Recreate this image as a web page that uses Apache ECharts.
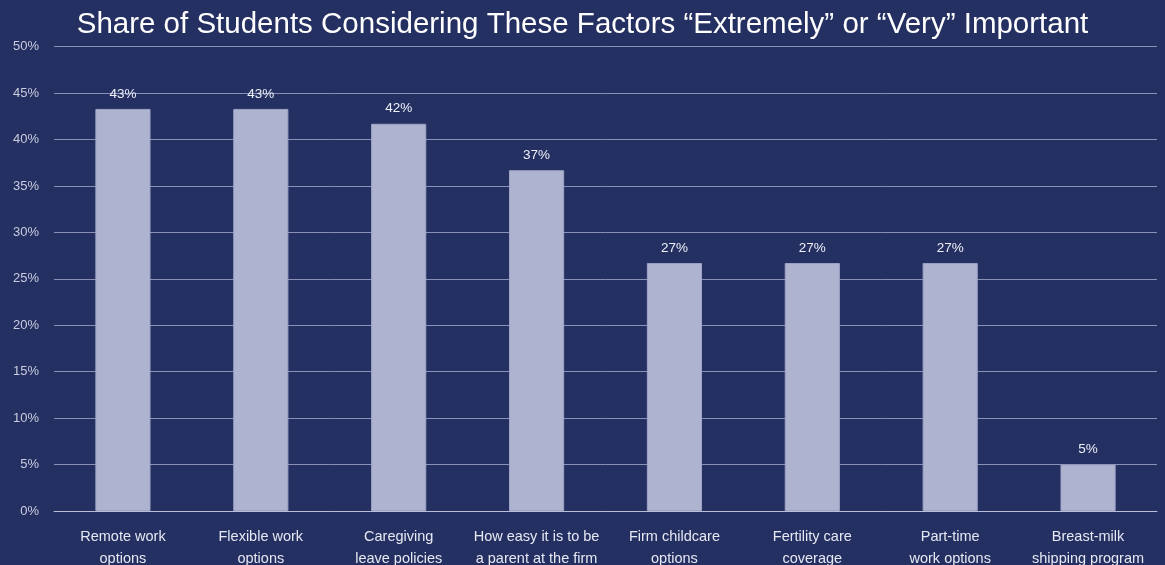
<!DOCTYPE html>
<html>
<head>
<meta charset="utf-8">
<script src="https://cdn.jsdelivr.net/npm/echarts@6/dist/echarts.min.js"></script>
<style>
  html, body { margin: 0; padding: 0; background: #253062; }
  #chart { width: 1165px; height: 565px; }
</style>
</head>
<body>
<div id="chart"></div>
<script>
// Factors rated "Extremely" or "Very" important (share of students, %)
const categories = [
  'Remote work\noptions',
  'Flexible work\noptions',
  'Caregiving\nleave policies',
  'How easy it is to be\na parent at the firm',
  'Firm childcare\noptions',
  'Fertility care\ncoverage',
  'Part-time\nwork options',
  'Breast-milk\nshipping program'
];
const shares = [43.3, 43.3, 41.7, 36.7, 26.7, 26.7, 26.7, 5.0];
const yTicks = [0, 5, 10, 15, 20, 25, 30, 35, 40, 45, 50];

const FONT = '"Liberation Sans", Arial, sans-serif';
const chart = echarts.init(document.getElementById('chart'), null, { renderer: 'canvas' });

chart.setOption({
  backgroundColor: '#253062',
  animation: false,
  title: {
    text: 'Share of Students Considering These Factors \u201cExtremely\u201d or \u201cVery\u201d Important',
    left: 'center',
    top: 5,
    textStyle: { color: '#ffffff', fontFamily: FONT, fontSize: 29.5, fontWeight: 'normal' }
  },
  grid: {
    left: 54, right: 8, top: 46.7, bottom: 54,
    containLabel: false,
    outerBoundsMode: 'none'
  },
  xAxis: {
    type: 'category',
    data: categories,
    axisLine: { show: true, lineStyle: { color: '#b9bdd8', width: 1 } },
    axisTick: { show: false },
    axisLabel: {
      color: '#e6e8f2', fontFamily: FONT, fontSize: 14.5, lineHeight: 22,
      margin: 15, interval: 0
    }
  },
  yAxis: {
    type: 'value',
    min: yTicks[0],
    max: yTicks[yTicks.length - 1],
    interval: 5,
    axisLine: { show: false },
    axisTick: { show: false },
    splitLine: { show: true, lineStyle: { color: '#8a90b6', width: 1 } },
    axisLabel: {
      color: '#c9ccdf', fontFamily: FONT, fontSize: 13, margin: 15,
      formatter: v => v + '%'
    }
  },
  series: [{
    type: 'bar',
    data: shares,
    barWidth: '40%',
    itemStyle: { color: '#aeb3cf', borderColor: '#9fa4c6', borderWidth: 1 },
    label: {
      show: true,
      position: 'top',
      distance: 8,
      color: '#eef0f7',
      fontFamily: FONT,
      fontSize: 13.5,
      formatter: p => Math.round(p.value) + '%'
    }
  }]
});
</script>
</body>
</html>
